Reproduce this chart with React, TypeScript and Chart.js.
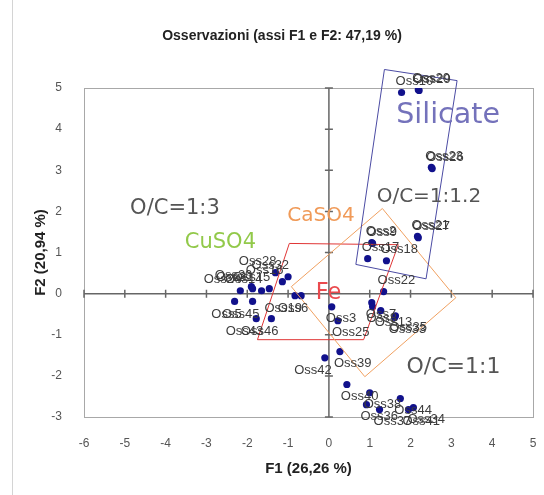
import { useEffect, useRef } from 'react';
import { Chart, registerables } from 'chart.js';
Chart.register(...registerables);

// Observations (F1, F2)
const obsNames = [
  'Oss10', 'Oss20', 'Oss29', 'Oss23', 'Oss26', 'Oss21', 'Oss27', 'Oss2', 'Oss9', 'Oss17', 'Oss18', 'Oss22',
  'Oss3', 'Oss25', 'Oss7', 'Oss8', 'Oss13', 'Oss35', 'Oss33', 'Oss39', 'Oss42',
  'Oss40', 'Oss38', 'Oss36', 'Oss37', 'Oss44', 'Oss41', 'Oss34',
  'Oss24', 'Oss5', 'Oss30', 'Oss31', 'Oss45', 'Oss14', 'Oss15', 'Oss28', 'Oss16', 'Oss32', 'Oss43', 'Oss46', 'Oss19', 'Oss6',
];
const obsF1 = [
  1.78, 2.19, 2.21, 2.51, 2.53, 2.17, 2.19, 1.05, 1.07, 0.95, 1.41, 1.34,
  0.07, 0.22, 1.05, 1.07, 1.27, 1.63, 1.61, 0.27, -0.10,
  0.44, 1.00, 0.92, 1.24, 1.75, 1.95, 2.07,
  -2.17, -2.31, -1.90, -1.87, -1.87, -1.65, -1.46, -1.31, -1.14, -1.00, -1.78, -1.41, -0.83, -0.68,
];
const obsF2 = [
  4.89, 4.96, 4.94, 3.07, 3.04, 1.39, 1.36, 1.24, 1.22, 0.85, 0.80, 0.05,
  -0.32, -0.66, -0.22, -0.32, -0.41, -0.54, -0.58, -1.41, -1.56,
  -2.21, -2.41, -2.70, -2.82, -2.55, -2.82, -2.77,
  0.07, -0.19, 0.17, 0.12, -0.19, 0.07, 0.12, 0.51, 0.29, 0.41, -0.61, -0.61, -0.05, -0.05,
];
// label placement: a = above, al = above-left, b = below, bl = below-left
const labelSide = [
  'a', 'a', 'a', 'a', 'a', 'a', 'a', 'a', 'a', 'a', 'a', 'a',
  'b', 'b', 'b', 'b', 'b', 'b', 'b', 'b', 'bl',
  'b', 'b', 'b', 'b', 'b', 'b', 'b',
  'al', 'bl', 'al', 'al', 'bl', 'al', 'al', 'al', 'al', 'al', 'bl', 'bl', 'bl', 'bl',
];

// Group outlines
const silicateF1 = [1.36, 3.14, 2.38, 0.66, 1.36];
const silicateF2 = [5.45, 5.18, 0.36, 0.71, 5.45];
const caso4F1 = [1.31, 3.11, 0.88, -0.92, 1.31];
const caso4F2 = [2.07, -0.10, -2.02, 0.17, 2.07];
const feF1 = [-0.97, 1.70, 0.85, -1.75, -0.97];
const feF2 = [1.22, 1.19, -1.12, -1.12, 1.22];

// Group annotations
const groupTexts = ['Silicate', 'O/C=1:1.2', 'O/C=1:3', 'CaSO4', 'CuSO4', 'Fe', 'O/C=1:1'];
const groupF1 = [1.65, 1.17, -4.87, -1.02, -3.53, -0.32, 1.9];
const groupF2 = [4.33, 2.36, 2.06, 1.9, 1.24, 0.01, -1.8];
const groupColors = ['#7472bb', '#555555', '#555555', '#f09a58', '#92c94a', '#ea4a4e', '#555555'];
const groupSizes = [28.5, 20, 21, 20, 21, 22.5, 22];

const xTicks = [-6, -5, -4, -3, -2, -1, 0, 1, 2, 3, 4, 5];
const yTicks = [-3, -2, -1, 0, 1, 2, 3, 4, 5];

const titleText = 'Osservazioni (assi F1 e F2: 47,19 %)';
const xTitle = 'F1 (26,26 %)';
const yTitle = 'F2 (20,94 %)';

const toPts = (xs: number[], ys: number[]) => xs.map((x, i) => ({ x, y: ys[i] }));

export default function App() {
  const ref = useRef<HTMLCanvasElement>(null);
  useEffect(() => {
    if (!ref.current) return;
    const decor = {
      id: 'decor',
      beforeDatasetsDraw(chart: any) {
        const { ctx, chartArea: a, scales } = chart;
        const xs = scales.x, ys = scales.y;
        ctx.save();
        ctx.strokeStyle = '#a8a8a8';
        ctx.lineWidth = 1;
        ctx.strokeRect(a.left + 0.5, a.top + 0.5, a.right - a.left, a.bottom - a.top);
        ctx.strokeStyle = '#666';
        ctx.lineWidth = 1.5;
        const y0 = ys.getPixelForValue(0);
        const x0 = xs.getPixelForValue(0);
        ctx.beginPath();
        ctx.moveTo(a.left, y0); ctx.lineTo(a.right, y0);
        ctx.moveTo(x0, a.top); ctx.lineTo(x0, a.bottom);
        xTicks.forEach((t) => {
          const px = xs.getPixelForValue(t);
          ctx.moveTo(px, y0 - 4); ctx.lineTo(px, y0 + 4);
        });
        yTicks.forEach((t) => {
          const py = ys.getPixelForValue(t);
          ctx.moveTo(x0 - 4, py); ctx.lineTo(x0 + 4, py);
        });
        ctx.stroke();
        ctx.restore();
      },
      afterDatasetsDraw(chart: any) {
        const { ctx, scales } = chart;
        const xs = scales.x, ys = scales.y;
        ctx.save();
        // point labels
        ctx.font = '13px "Liberation Sans", Arial, sans-serif';
        ctx.fillStyle = '#3c3c3c';
        ctx.textBaseline = 'middle';
        obsNames.forEach((n, i) => {
          const px = xs.getPixelForValue(obsF1[i]);
          const py = ys.getPixelForValue(obsF2[i]);
          const s = labelSide[i];
          if (s === 'a') { ctx.textAlign = 'left'; ctx.fillText(n, px - 6, py - 11); }
          else if (s === 'al') { ctx.textAlign = 'right'; ctx.fillText(n, px + 1, py - 11); }
          else if (s === 'b') { ctx.textAlign = 'left'; ctx.fillText(n, px - 6, py + 12); }
          else { ctx.textAlign = 'right'; ctx.fillText(n, px + 7, py + 13); }
        });
        // group annotations
        ctx.textAlign = 'left';
        groupTexts.forEach((t, i) => {
          ctx.font = `${groupSizes[i]}px "DejaVu Sans", sans-serif`;
          ctx.fillStyle = groupColors[i];
          ctx.fillText(t, xs.getPixelForValue(groupF1[i]), ys.getPixelForValue(groupF2[i]));
        });
        // title
        ctx.font = 'bold 14px "Liberation Sans", Arial, sans-serif';
        ctx.fillStyle = '#222';
        ctx.textAlign = 'center';
        ctx.fillText(titleText, 282, 36);
        ctx.restore();
      },
    };
    const chart = new Chart(ref.current, {
      type: 'scatter',
      data: {
        datasets: [
          { label: 'Silicate', data: toPts(silicateF1, silicateF2), showLine: true, borderColor: '#4b4ba3', borderWidth: 1, pointRadius: 0, fill: false, clip: false as any },
          { label: 'CaSO4', data: toPts(caso4F1, caso4F2), showLine: true, borderColor: '#f0a060', borderWidth: 1, pointRadius: 0, fill: false, clip: false as any },
          { label: 'Fe', data: toPts(feF1, feF2), showLine: true, borderColor: '#e03535', borderWidth: 1, pointRadius: 0, fill: false, clip: false as any },
          { label: 'Osservazioni', data: toPts(obsF1, obsF2), pointRadius: 3.6, pointBackgroundColor: '#11118c', pointBorderWidth: 0, showLine: false },
        ],
      },
      options: {
        animation: false,
        responsive: false,
        maintainAspectRatio: false,
        layout: { padding: { left: 0, right: 11, top: 88, bottom: 0 } },
        plugins: { legend: { display: false }, tooltip: { enabled: false }, title: { display: false } },
        scales: {
          x: {
            type: 'linear', min: -6, max: 5,
            grid: { display: false },
            border: { display: false },
            ticks: { stepSize: 1, padding: 11, color: '#555', font: { size: 12, family: '"Liberation Sans", Arial, sans-serif' } },
            title: { display: true, text: xTitle, color: '#222', font: { size: 15, weight: 'bold', family: '"Liberation Sans", Arial, sans-serif' }, padding: { top: 0, bottom: 17 } },
            afterFit: (s: any) => { s.height = 78; s.paddingLeft = 0; s.paddingRight = 0; },
          },
          y: {
            type: 'linear', min: -3, max: 5,
            grid: { display: false },
            border: { display: false },
            ticks: { stepSize: 1, padding: 14, color: '#555', font: { size: 12, family: '"Liberation Sans", Arial, sans-serif' } },
            title: { display: true, text: yTitle, color: '#222', font: { size: 15, weight: 'bold', family: '"Liberation Sans", Arial, sans-serif' }, padding: { top: 32, bottom: 0 } },
            afterFit: (s: any) => { s.width = 84; s.paddingTop = 0; s.paddingBottom = 0; },
          },
        },
      },
      plugins: [decor],
    });
    return () => chart.destroy();
  }, []);
  return (
    <div style={{ position: 'absolute', left: 0, top: 0, width: 544, height: 495, background: '#fff' }}>
      <div style={{ position: 'absolute', left: 12, top: 0, width: 1, height: 495, background: '#d4d4d4' }} />
      <canvas ref={ref} width={544} height={495} style={{ position: 'absolute', left: 0, top: 0 }} />
    </div>
  );
}
